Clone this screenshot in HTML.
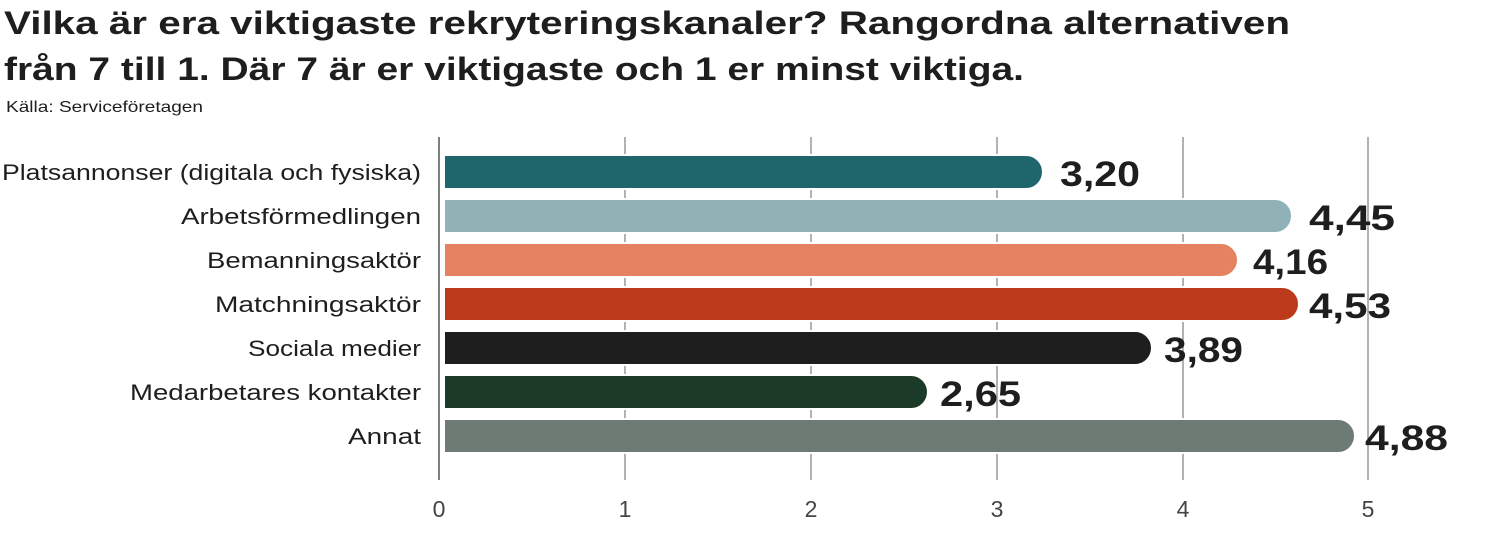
<!DOCTYPE html>
<html><head><meta charset="utf-8"><style>
body{margin:0;background:#fff;width:1500px;height:531px;overflow:hidden;font-family:"Liberation Sans",sans-serif;color:#1e1e1e}
</style></head><body>
<svg width="1500" height="531" xmlns="http://www.w3.org/2000/svg" font-family="Liberation Sans, sans-serif">
<text x="4" y="34" font-size="32" font-weight="bold" fill="#1e1e1e" textLength="1286" lengthAdjust="spacingAndGlyphs">Vilka är era viktigaste rekryteringskanaler? Rangordna alternativen</text>
<text x="4" y="80" font-size="32" font-weight="bold" fill="#1e1e1e" textLength="1020" lengthAdjust="spacingAndGlyphs">från 7 till 1. Där 7 är er viktigaste och 1 er minst viktiga.</text>
<text x="6" y="112" font-size="16" fill="#1e1e1e" textLength="197" lengthAdjust="spacingAndGlyphs">Källa: Serviceföretagen</text>
<g stroke="#888" stroke-width="1.3">
<line x1="625" y1="137" x2="625" y2="480"/><line x1="811" y1="137" x2="811" y2="480"/>
<line x1="997" y1="137" x2="997" y2="480"/><line x1="1183" y1="137" x2="1183" y2="480"/>
<line x1="1368" y1="137" x2="1368" y2="480"/></g>
<line x1="439" y1="137" x2="439" y2="480" stroke="#555" stroke-width="1.5"/>
<g stroke="#fff" stroke-width="2">
<path d="M444 155H1026a17 17 0 0 1 0 34H444Z" fill="#1e666c"/>
<path d="M444 199H1275a17 17 0 0 1 0 34H444Z" fill="#90b2b6"/>
<path d="M444 243H1221a17 17 0 0 1 0 34H444Z" fill="#e48262"/>
<path d="M444 287H1282a17 17 0 0 1 0 34H444Z" fill="#bb3a1a"/>
<path d="M444 331H1135a17 17 0 0 1 0 34H444Z" fill="#1e1e1e"/>
<path d="M444 375H911a17 17 0 0 1 0 34H444Z" fill="#1b3b28"/>
<path d="M444 419H1338a17 17 0 0 1 0 34H444Z" fill="#6e7a74"/>
</g>
<g font-size="35" font-weight="bold" fill="#1e1e1e">
<text x="1060" y="186" textLength="80" lengthAdjust="spacingAndGlyphs">3,20</text>
<text x="1309" y="230" textLength="86" lengthAdjust="spacingAndGlyphs">4,45</text>
<text x="1253" y="274" textLength="75" lengthAdjust="spacingAndGlyphs">4,16</text>
<text x="1309" y="318" textLength="82" lengthAdjust="spacingAndGlyphs">4,53</text>
<text x="1164" y="362" textLength="79" lengthAdjust="spacingAndGlyphs">3,89</text>
<text x="940" y="406" textLength="81" lengthAdjust="spacingAndGlyphs">2,65</text>
<text x="1365" y="450" textLength="83" lengthAdjust="spacingAndGlyphs">4,88</text></g>
<g font-size="22" text-anchor="end" fill="#1e1e1e">
<text x="421" y="180" textLength="419" lengthAdjust="spacingAndGlyphs">Platsannonser (digitala och fysiska)</text>
<text x="421" y="224" textLength="240" lengthAdjust="spacingAndGlyphs">Arbetsförmedlingen</text>
<text x="421" y="268" textLength="214" lengthAdjust="spacingAndGlyphs">Bemanningsaktör</text>
<text x="421" y="312" textLength="206" lengthAdjust="spacingAndGlyphs">Matchningsaktör</text>
<text x="421" y="356" textLength="173" lengthAdjust="spacingAndGlyphs">Sociala medier</text>
<text x="421" y="400" textLength="291" lengthAdjust="spacingAndGlyphs">Medarbetares kontakter</text>
<text x="421" y="444" textLength="73" lengthAdjust="spacingAndGlyphs">Annat</text></g>
<g font-size="23" text-anchor="middle" fill="#444">
<text x="439" y="517">0</text><text x="625" y="517">1</text><text x="811" y="517">2</text>
<text x="997" y="517">3</text><text x="1183" y="517">4</text><text x="1368" y="517">5</text></g>
</svg>
</body></html>
